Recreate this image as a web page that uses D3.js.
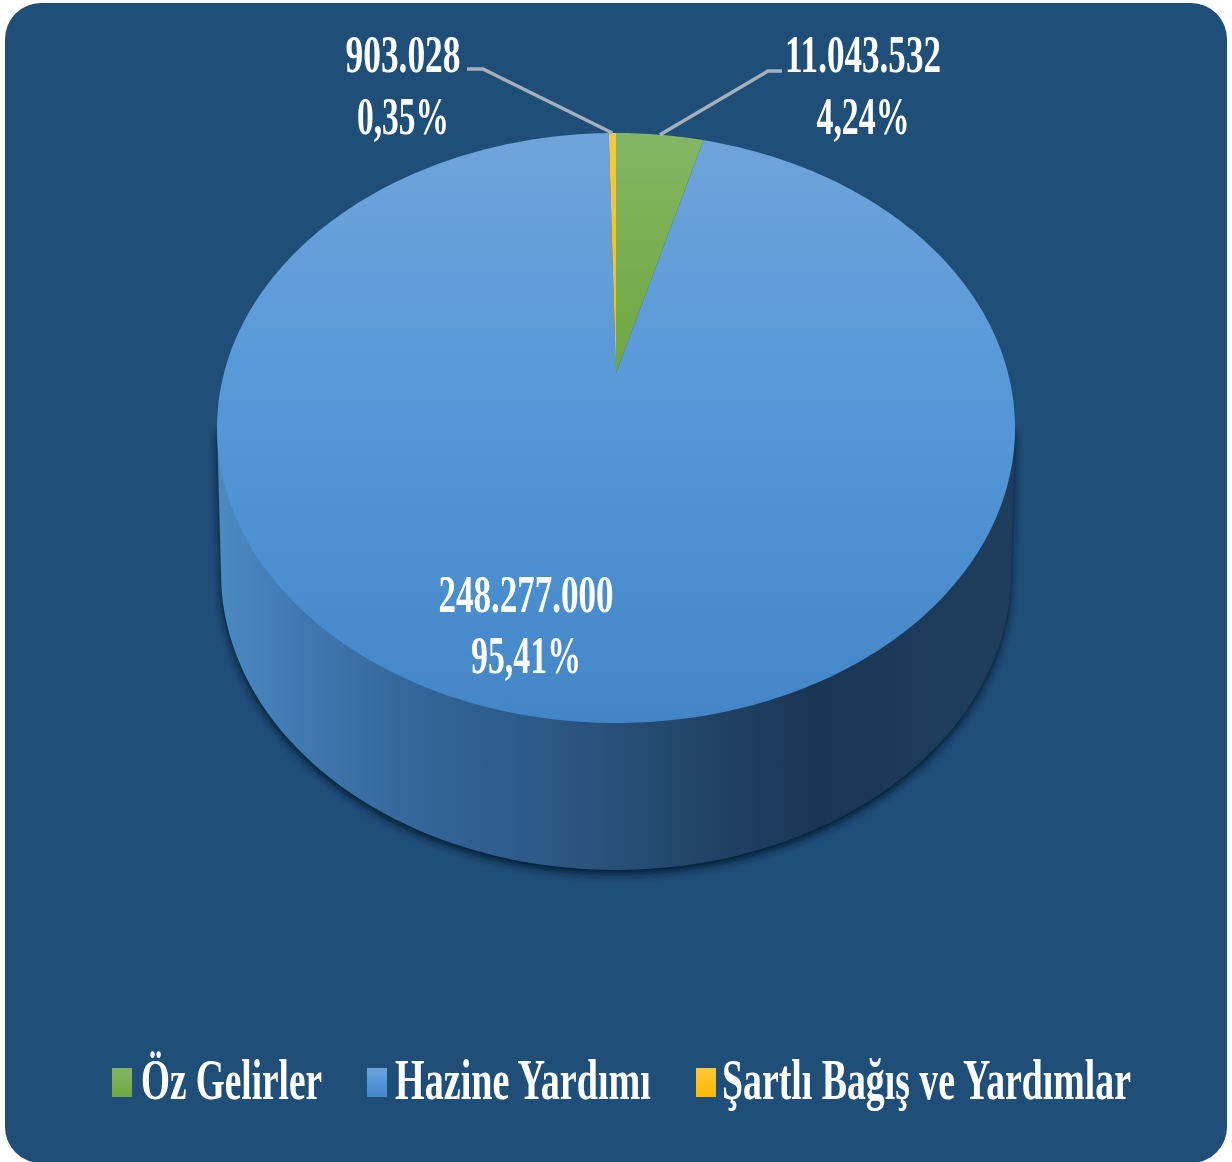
<!DOCTYPE html>
<html>
<head>
<meta charset="utf-8">
<script src="https://d3js.org/d3.v7.min.js"></script>
<style>
html, body { margin: 0; padding: 0; background: #fff; overflow: hidden; }
svg { display: block; }
text { font-family: "Liberation Serif", serif; font-weight: bold; fill: #fff; }
</style>
</head>
<body>
<div class="chart"></div>
<script>
// data
var categories = ["Öz Gelirler", "Hazine Yardımı", "Şartlı Bağış ve Yardımlar"];
var amounts = [11043532, 248277000, 903028];
var amountLabels = ["11.043.532", "248.277.000", "903.028"];
var percentLabels = ["4,24%", "95,41%", "0,35%"];

// colours, same order as categories: top, middle, bottom
var sliceColors = [["#83b663", "#79af50", "#6ea73f"], ["#6fa4da", "#5397d8", "#4286c8"], ["#ffc73a", "#fdc01c", "#fbb900"]];

var svgWidth = 1232;
var svgHeight = 1162;

var svg = d3.select(".chart").append("svg").attr("width", svgWidth).attr("height", svgHeight);
var defs = svg.append("defs");

// panel
svg.append("rect").attr("x", 5).attr("y", 3).attr("width", 1222).attr("height", 1160)
    .attr("rx", 36).attr("ry", 36).attr("fill", "#1f4e79");

// top face is a circle seen in perspective, so the pie centre sits above the ellipse centre
var cx = 616, apexY = 373;
var scaleU = 392, scaleV = 215.2, persp = -0.1864;
function project(angle) {
    var u = Math.sin(angle), v = -Math.cos(angle);
    var w = 1 + persp * v;
    return [cx + scaleU * u / w, (scaleV * v + apexY) / w];
}

// pie angles
var pie = d3.pie().sort(null)(amounts);

// gradients
function addStops(grad, c) {
    grad.selectAll("stop").data(c).enter().append("stop")
        .attr("offset", function (d, i) { return i / (c.length - 1); })
        .attr("stop-color", function (d) { return d; });
}
sliceColors.forEach(function (c, i) {
    addStops(defs.append("linearGradient").attr("id", "slice" + i).attr("gradientUnits", "userSpaceOnUse")
        .attr("x1", 0).attr("x2", 0).attr("y1", 133).attr("y2", i == 1 ? 723 : 373), c);
    addStops(defs.append("linearGradient").attr("id", "swatch" + i)
        .attr("x1", 0).attr("x2", 0).attr("y1", 0).attr("y2", 1), c);
});

var wallStops = [[0, "#4b89c3"], [0.1, "#4079b0"], [0.25, "#33669a"], [0.45, "#2a5580"], [0.6, "#234569"], [0.75, "#1a3655"], [1, "#1f3e5e"]];
var wallGrad = defs.append("linearGradient").attr("id", "wall").attr("gradientUnits", "userSpaceOnUse")
    .attr("x1", 222).attr("x2", 1010).attr("y1", 0).attr("y2", 0);
wallGrad.selectAll("stop").data(wallStops).enter().append("stop")
    .attr("offset", function (d) { return d[0]; })
    .attr("stop-color", function (d) { return d[1]; });

defs.append("filter").attr("id", "blur").attr("x", "-10%").attr("y", "-10%").attr("width", "120%").attr("height", "120%")
    .append("feGaussianBlur").attr("stdDeviation", 4.5);
defs.append("filter").attr("id", "soft")
    .append("feGaussianBlur").attr("stdDeviation", 0.45);

// side wall, lower half of a slightly narrower ellipse
var wallPoints = [[217, 428]].concat(d3.range(180, 361, 2).map(function (deg) {
    var t = deg * Math.PI / 180;
    return [cx + 395 * Math.cos(t), 573 - 297 * Math.sin(t)];
})).concat([[1015, 428]]);
var wallLine = d3.line();

svg.append("path").attr("d", wallLine(wallPoints) + "Z").attr("fill", "#051a2e")
    .attr("transform", "translate(0,4)").attr("filter", "url(#blur)");
svg.append("path").attr("d", wallLine(wallPoints) + "Z").attr("fill", "url(#wall)");

// top face slices
function slicePath(d) {
    var n = Math.max(2, Math.ceil((d.endAngle - d.startAngle) * 60));
    var pts = d3.range(n + 1).map(function (k) {
        return project(d.startAngle + (d.endAngle - d.startAngle) * k / n);
    });
    return d3.line()([[cx, apexY]].concat(pts)) + "Z";
}

svg.append("g").selectAll("path").data(pie).enter().append("path")
    .attr("d", slicePath)
    .attr("fill", function (d, i) { return "url(#slice" + i + ")"; });

// leader lines go from the label to the middle of the slice rim
var leaders = [
    { slice: 0, pts: [[782, 71], [768, 71]] },
    { slice: 2, pts: [[467, 69], [483, 69]] }
];
svg.append("g").attr("filter", "url(#soft)").selectAll("path").data(leaders).enter().append("path")
    .attr("d", function (d) {
        var s = pie[d.slice];
        return d3.line()(d.pts.concat([project((s.startAngle + s.endAngle) / 2)]));
    })
    .attr("fill", "none").attr("stroke", "#a6b0bb").attr("stroke-width", 3.5);

// squeeze a text to the narrow look of the reference
function fitText(g, str, x, y, size, width, anchor) {
    var t = g.append("text").attr("font-size", size).text(str);
    var sx = width / t.node().getComputedTextLength();
    var left = anchor == "middle" ? x - width / 2 : x;
    t.attr("transform", "translate(" + left + "," + y + ") scale(" + sx + ",1)");
}

// value labels: centre x, baseline of the two rows, text widths
var labelLayout = [
    { x: 863, y1: 72, y2: 134, w1: 156, w2: 93 },
    { x: 526, y1: 612, y2: 673, w1: 175, w2: 110 },
    { x: 403, y1: 72, y2: 134, w1: 115, w2: 92 }
];
var labels = svg.append("g").attr("filter", "url(#soft)");
labelLayout.forEach(function (p, i) {
    fitText(labels, amountLabels[i], p.x, p.y1, 52, p.w1, "middle");
    fitText(labels, percentLabels[i], p.x, p.y2, 52, p.w2, "middle");
});

// legend
var legendLayout = [
    { sx: 112, tx: 141, tw: 181 },
    { sx: 367, tx: 395, tw: 256 },
    { sx: 696, tx: 722, tw: 409 }
];
var legend = svg.append("g");
var legendText = svg.append("g").attr("filter", "url(#soft)");
categories.forEach(function (name, i) {
    var p = legendLayout[i];
    legend.append("rect").attr("x", p.sx).attr("y", 1068).attr("width", 20).attr("height", 29)
        .attr("fill", "url(#swatch" + i + ")");
    fitText(legendText, name, p.tx, 1099, 56, p.tw, "start");
});
</script>
</body>
</html>
